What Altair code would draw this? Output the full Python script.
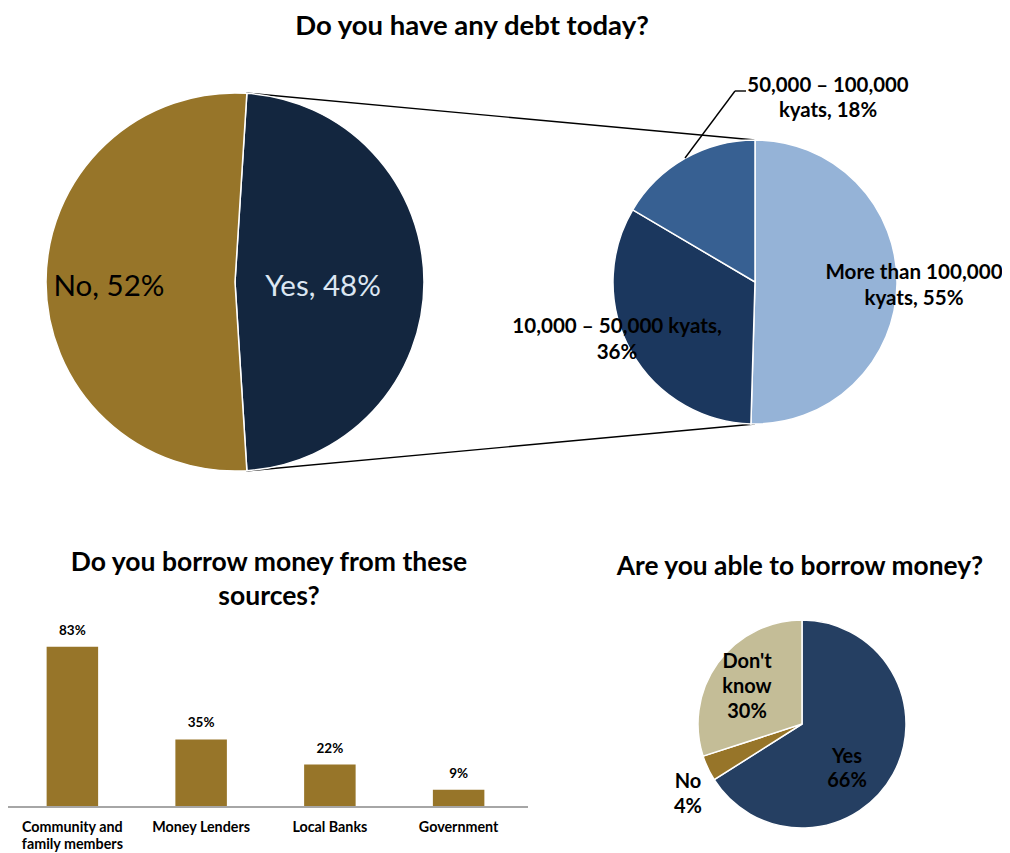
import math
import altair as alt
import pandas as pd

# ---------------- data ----------------
debt_labels = ["Yes", "No"]
debt_values = [48, 52]

amount_labels = ["More than 100,000 kyats", "10,000 – 50,000 kyats", "50,000 – 100,000 kyats"]
amount_values = [55, 36, 18]

source_labels = ["Community and\nfamily members", "Money Lenders", "Local Banks", "Government"]
source_values = [83, 35, 22, 9]

able_labels = ["Yes", "No", "Don't know"]
able_values = [66, 4, 30]

# ---------------- layout helpers ----------------
M = 8
FONT = "Lato"


def px(x):
    return x - M


def py(y):
    return y - M


def pie(labels, values, colors, cx, cy, r, start):
    df = pd.DataFrame({"label": labels, "value": values, "k": list(range(len(labels)))})
    return alt.Chart(df).mark_arc(radius=r, stroke="white", strokeWidth=1.5).encode(
        x=alt.value(px(cx)),
        y=alt.value(py(cy)),
        theta=alt.Theta("value:Q", stack=True,
                        scale=alt.Scale(range=[start, start + 2 * math.pi])),
        color=alt.Color("label:N", scale=alt.Scale(domain=labels, range=colors), legend=None),
        order=alt.Order("k:Q"),
    )


def txt(s, x, y, size, weight="bold", color="black", lh=None):
    # y is the centre of the first line
    kw = dict(text=s, font=FONT, fontSize=size, fontWeight=weight, color=color,
              align="center", baseline="middle", lineBreak="\n")
    if lh:
        kw["lineHeight"] = lh
    return alt.Chart(pd.DataFrame({"a": [0]})).mark_text(**kw).encode(
        x=alt.value(px(x)), y=alt.value(py(y)))


def seg(x1, y1, x2, y2, color="black", w=1.4):
    return alt.Chart(pd.DataFrame({"a": [0]})).mark_rule(color=color, strokeWidth=w).encode(
        x=alt.value(px(x1)), y=alt.value(py(y1)), x2=alt.value(px(x2)), y2=alt.value(py(y2)))


layers = []

# ---------------- top: pie of pie ----------------
layers.append(txt("Do you have any debt today?", 472, 27, 27.5))

# connectors
layers.append(seg(246, 93, 755, 140))
layers.append(seg(246, 471, 755, 424))

yes_span = debt_values[0] / sum(debt_values) * 2 * math.pi
start_big = math.pi / 2 - yes_span / 2
layers.append(pie(debt_labels, debt_values, ["#13263F", "#977529"], 235, 282, 189, start_big))
layers.append(txt(f"{debt_labels[1]}, {debt_values[1]}%", 109, 287, 29.5, weight="normal"))
layers.append(txt(f"{debt_labels[0]}, {debt_values[0]}%", 323, 287, 29.5, weight="normal", color="#DCE6F2"))

layers.append(pie(amount_labels, amount_values, ["#95B3D7", "#1B375E", "#376092"], 755, 282, 142, 0))
layers.append(txt(f"More than 100,000\nkyats, {amount_values[0]}%", 914, 273, 20.6, lh=26))
layers.append(txt(f"10,000 – 50,000 kyats,\n{amount_values[1]}%", 617, 327, 20.6, lh=26))
layers.append(txt(f"50,000 – 100,000\nkyats, {amount_values[2]}%", 828, 86, 20.4, lh=25))
layers.append(seg(685, 158, 735, 91))
layers.append(seg(735, 91, 746, 91))

# ---------------- bottom left: bar chart ----------------
layers.append(txt("Do you borrow money from these\nsources?", 269, 563, 26.5, lh=34))

src_df = pd.DataFrame({"source": source_labels, "pct": source_values})
xs = alt.X("source:N", sort=source_labels, axis=None,
           scale=alt.Scale(range=[px(8), px(523)], paddingInner=0.6, paddingOuter=0.3))
ys = alt.Y("pct:Q", axis=None, scale=alt.Scale(domain=[0, 100], range=[py(807), py(614)]))

layers.append(alt.Chart(src_df).mark_bar(color="#977529").encode(x=xs, y=ys))
layers.append(
    alt.Chart(src_df).transform_calculate(lab="datum.pct + '%'").mark_text(
        font=FONT, fontSize=13.5, fontWeight="bold", color="black", dy=-16, baseline="middle"
    ).encode(x=xs, y=ys, text="lab:N")
)
layers.append(
    alt.Chart(src_df).mark_text(
        font=FONT, fontSize=14.3, fontWeight="bold", color="black", baseline="middle",
        lineBreak="\n", lineHeight=17
    ).encode(x=xs, y=alt.value(py(828)), text="source:N")
)
layers.append(seg(8, 807, 528, 807, color="#A6A6A6", w=2))

# ---------------- bottom right: pie ----------------
layers.append(txt("Are you able to borrow money?", 800, 567, 26.3))
layers.append(pie(able_labels, able_values, ["#253F62", "#977529", "#C4BD97"], 802, 724, 104, 0))
layers.append(txt(f"{able_labels[0]}\n{able_values[0]}%", 847, 757, 20, lh=24))
layers.append(txt(f"Don't\nknow\n{able_values[2]}%", 747, 662, 20, lh=25))
layers.append(txt(f"{able_labels[1]}\n{able_values[1]}%", 688, 782, 20, lh=25))

chart = alt.layer(*layers).resolve_scale(
    x="independent", y="independent", color="independent", theta="independent"
).properties(
    width=994, height=845, padding=0, autosize="none"
).configure_view(stroke=None)

chart.save("out.html", embed_options={"renderer": "svg", "actions": False})
